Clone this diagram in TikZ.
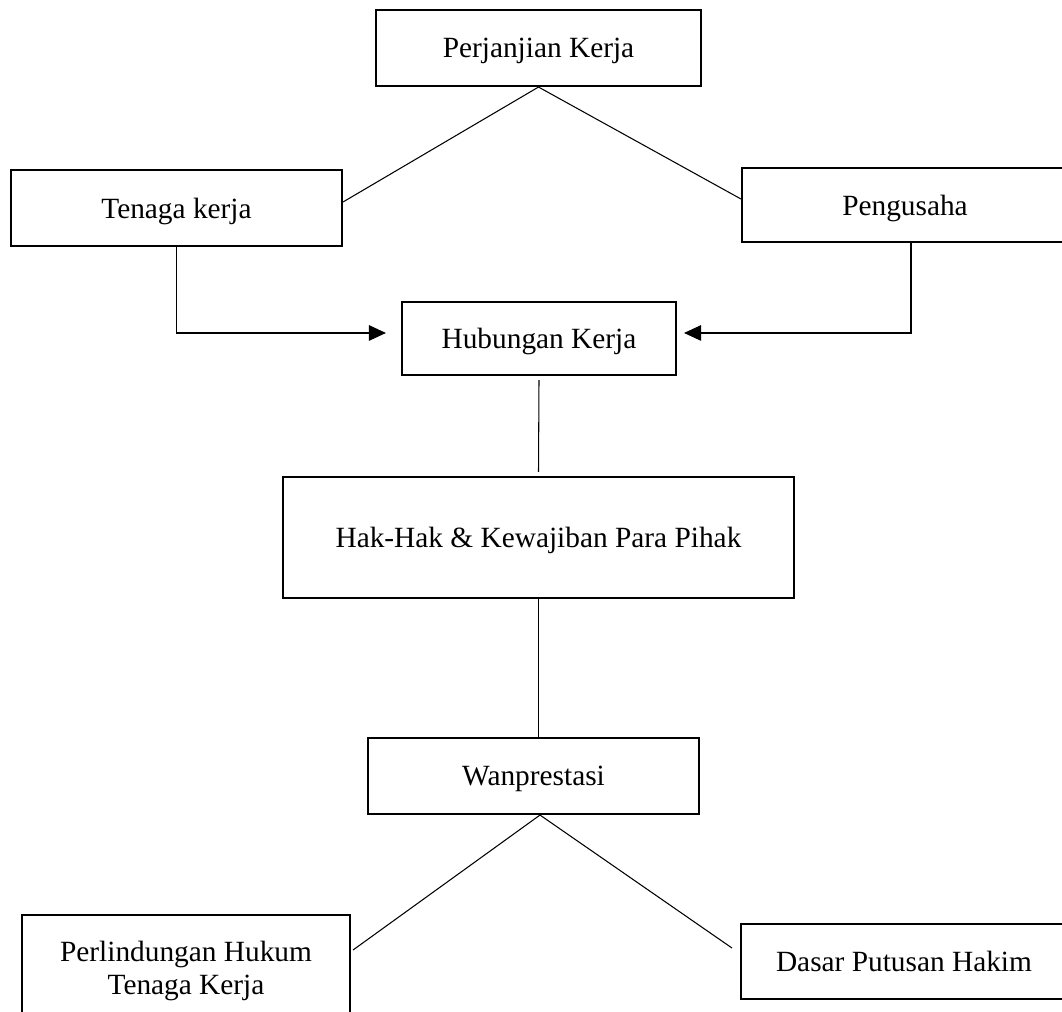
\documentclass[tikz,border=0pt]{standalone}
\usepackage{fontspec}
\setmainfont{Liberation Serif}
\usepackage{tikz}
\usetikzlibrary{arrows.meta,positioning,calc}
\tikzset{
  bx/.style={draw, line width=1.2pt, inner sep=0pt, align=center, text depth=0pt},
  ln/.style={line width=0.6pt},
  ar/.style={line width=0.6pt, -{Triangle[length=3.4mm,width=3.1mm]}},
}

\begin{document}
\begin{tikzpicture}[font=\fontsize{16.7}{18.8}\selectfont]
  \clip (0,0) rectangle (21.24,20.24);
  \node[bx, minimum width=6.5cm, minimum height=1.52cm] (pk) at (10.77,19.28){Perjanjian Kerja};
  \node[bx, minimum width=6.62cm, minimum height=1.52cm] (tk) at (3.53,16.08){Tenaga kerja};
  \node[bx, minimum width=6.52cm, minimum height=1.48cm] (pg) at (18.10,16.14){Pengusaha};
  \node[bx, minimum width=5.48cm, minimum height=1.46cm] (hk) at (10.78,13.47){Hubungan Kerja};
  \node[bx, minimum width=10.22cm, minimum height=2.42cm] (hh) at (10.77,9.49){Hak-Hak \& Kewajiban Para Pihak};
  \node[bx, minimum width=6.62cm, minimum height=1.52cm] (wp) at (10.67,4.72){Wanprestasi};
  \node[bx, minimum width=6.56cm, minimum height=2.12cm] (ph) at (3.72,0.88){Perlindungan Hukum\\ Tenaga Kerja};
  \node[bx, minimum width=6.52cm, minimum height=1.5cm] (dp) at (18.08,1.01){Dasar Putusan Hakim};
  \draw[ln] (pk.south) -- ([yshift=1.2mm]tk.east);
  \draw[ln] (pk.south) -- ([yshift=1.2mm]pg.west);
  \draw[ar] (tk.south) |- ([shift={(-3mm,1.1mm)}]hk.west);
  \draw[ar] ([xshift=1.2mm]pg.south) |- ([shift={(1.4mm,1.1mm)}]hk.east);
  \draw[ln] ([yshift=-0.8mm]hk.south) -- ([yshift=0.8mm]hh.north);
  \draw[ln] (hh.south) -- (hh.south |- wp.north);
  \draw[ln] ([xshift=1.3mm]wp.south) -- ([shift={(0.4mm,3.6mm)}]ph.east);
  \draw[ln] ([xshift=1.3mm]wp.south) -- ([shift={(-1.6mm,2.7mm)}]dp.west);
\end{tikzpicture}
\end{document}
